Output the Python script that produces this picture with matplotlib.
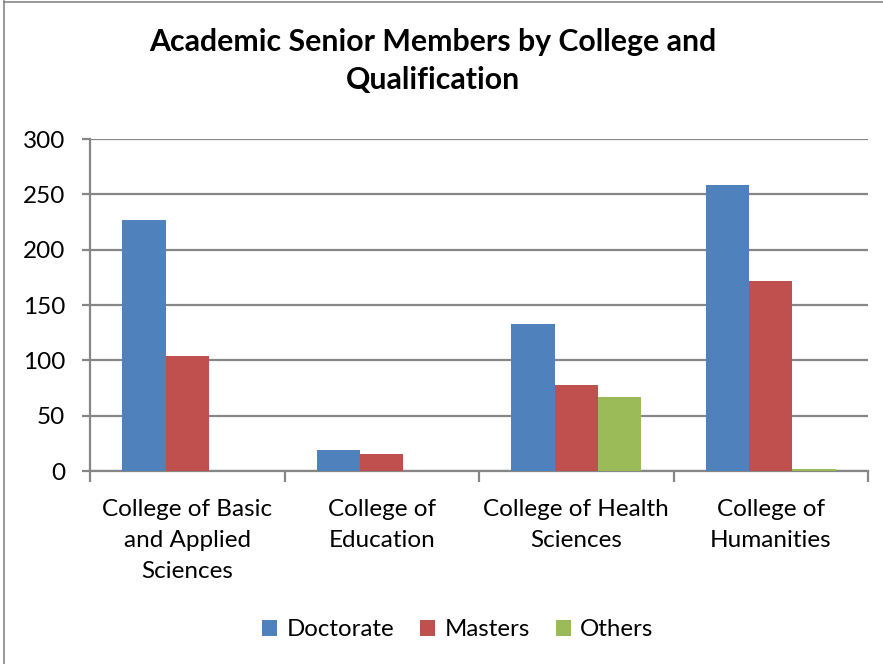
import matplotlib
matplotlib.use("Agg")
import matplotlib.pyplot as plt
import numpy as np
from matplotlib.lines import Line2D

categories = ["College of Basic\nand Applied\nSciences", "College of\nEducation",
              "College of Health\nSciences", "College of\nHumanities"]
series_names = ["Doctorate", "Masters", "Others"]
doctorate = [227, 19, 133, 258]
masters = [104, 15, 78, 172]
others = [0, 0, 67, 2]
yticks = [0, 50, 100, 150, 200, 250, 300]

colors = ["#4F81BD", "#C0504D", "#9BBB59"]
grid_c = "#868686"
font = "Lato"
plt.rcParams['font.family'] = [font, 'DejaVu Sans']

W, H = 883, 664
fig = plt.figure(figsize=(W/100, H/100), dpi=100)
ax = fig.add_axes([90/W, (H-471)/H, (868-90)/W, (471-139)/H])

x = np.arange(len(categories))
bw = 1/4.5
for i, (vals, name) in enumerate(zip([doctorate, masters, others], series_names)):
    ax.bar(x + (i-1)*bw, vals, width=bw, color=colors[i], label=name, zorder=3)

ax.set_xlim(-0.5, len(categories)-0.5)
ax.set_ylim(0, 300)
ax.set_yticks(yticks)
ax.set_yticklabels([str(v) for v in yticks], fontsize=17.5)
ax.yaxis.grid(True, color=grid_c, linewidth=1.6, zorder=0)
ax.set_xticks(x)
ax.set_xticklabels(categories, fontsize=17.5, linespacing=1.6)
ax.tick_params(axis='x', length=0, pad=20)
ax.set_xticks(np.arange(-0.5, len(categories), 1.0), minor=True)
ax.tick_params(axis='x', which='minor', length=8, width=1.6, color=grid_c)
ax.tick_params(axis='y', length=6, width=1.6, color=grid_c, pad=12)
for s in ["top", "right"]:
    ax.spines[s].set_visible(False)
for s in ["left", "bottom"]:
    ax.spines[s].set_color(grid_c)
    ax.spines[s].set_linewidth(1.6)
ax.set_axisbelow(True)

fig.text(433/W, 1-61/H, "Academic Senior Members by College and\nQualification",
         ha="center", va="center", fontsize=21.8, fontweight="bold", linespacing=1.45)

leg = fig.legend(loc="center", bbox_to_anchor=(458/W, 1-630/H), ncol=3, frameon=False,
                 fontsize=17.3, handlelength=0.6, handleheight=0.6, handletextpad=0.4,
                 columnspacing=1.1)

# outer chart border (left and top)
fig.add_artist(Line2D([4/W, 4/W], [0, 1-1/H], color=grid_c, linewidth=1.2, transform=fig.transFigure))
fig.add_artist(Line2D([4/W, 1], [1-1.5/H, 1-1.5/H], color=grid_c, linewidth=1.2, transform=fig.transFigure))

fig.savefig("out.png", dpi=100)
